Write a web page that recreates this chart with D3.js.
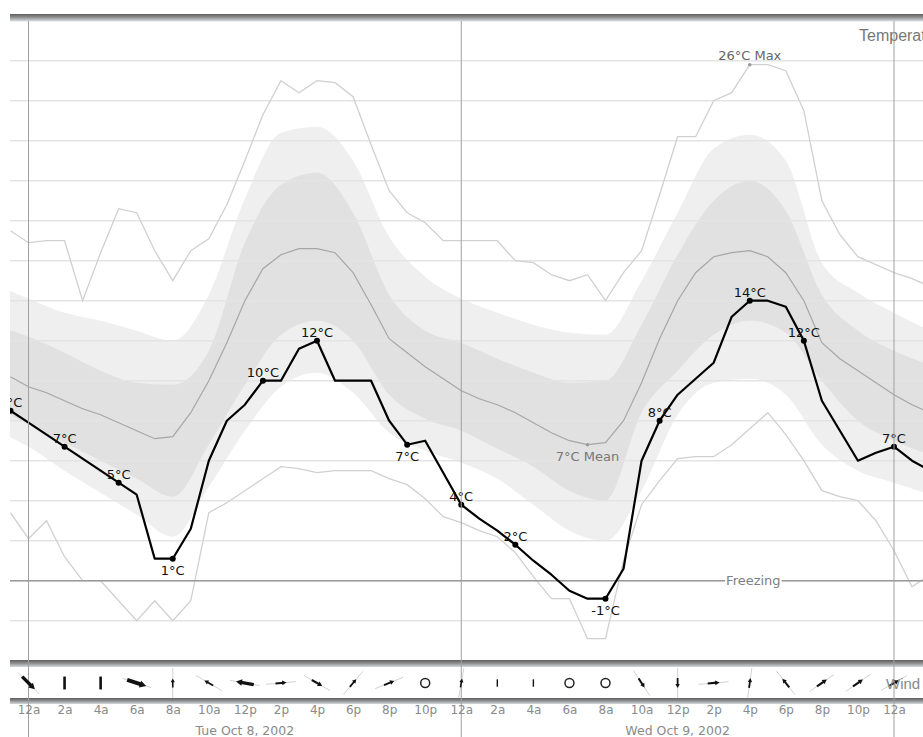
<!DOCTYPE html>
<html>
<head>
<meta charset="utf-8">
<script src="https://cdn.jsdelivr.net/npm/d3@7"></script>
<style>
body { margin: 0; background: #fff; overflow: hidden; }
svg text { font-family: "DejaVu Sans", Verdana, sans-serif; }
</style>
</head>
<body>
<svg id="chart" width="923" height="737"></svg>
<script>
// hourly values, hour 0 = 12a Tue Oct 8, 2002 (series start one hour earlier)
var hours = d3.range(-1, 51);
var observed = [8.5, 7.9, 7.3, 6.7, 6.1, 5.5, 4.9, 4.3, 1.1, 1.1, 2.6, 6.0, 8.0, 8.8, 10.0, 10.0, 11.6, 12.0, 10.0, 10.0,
    10.0, 8.0, 6.8, 7.0, 5.4, 3.8, 3.1, 2.5, 1.8, 1.0, 0.3, -0.5, -0.9, -0.9, 0.6, 6.0, 8.0, 9.3, 10.1, 10.9,
    13.2, 14.0, 14.0, 13.7, 12.0, 9.0, 7.5, 6.0, 6.4, 6.7, 6.0, 5.5];
var normalMean = [10.2, 9.7, 9.4, 9.0, 8.6, 8.3, 7.9, 7.5, 7.1, 7.2, 8.4, 10.0, 11.9, 14.0, 15.6, 16.3, 16.6, 16.6, 16.4, 15.4,
    13.8, 12.1, 11.4, 10.7, 10.1, 9.5, 9.1, 8.8, 8.4, 7.9, 7.4, 7.0, 6.8, 6.9, 8.0, 9.9, 12.1, 14.0, 15.4, 16.2,
    16.4, 16.5, 16.2, 15.4, 14.0, 11.9, 11.1, 10.5, 9.9, 9.3, 8.8, 8.4];
var recordMax = [17.5, 16.9, 17.0, 17.0, 14.0, 16.4, 18.6, 18.4, 16.5, 15.0, 16.5, 17.1, 18.8, 21.0, 23.3, 25.0, 24.4, 25.0, 24.9, 24.2,
    21.8, 19.5, 18.4, 17.9, 17.0, 17.0, 17.0, 17.0, 16.0, 15.9, 15.3, 15.0, 15.3, 14.0, 15.4, 16.5, 19.3, 22.2, 22.2, 24.0,
    24.4, 25.8, 25.8, 25.5, 23.5, 19.0, 17.3, 16.2, 15.8, 15.4, 15.1, 14.7];
var recordMin = [3.4, 2.1, 3.0, 1.2, 0.0, 0.0, -1.0, -2.0, -1.0, -2.0, -1.0, 3.4, 3.9, 4.5, 5.1, 5.7, 5.6, 5.4, 5.5, 5.5,
    5.5, 5.1, 4.8, 4.1, 3.2, 2.9, 2.5, 2.2, 1.4, 0.2, -0.9, -0.9, -2.9, -2.9, 1.0, 3.8, 5.0, 6.1, 6.2, 6.2,
    6.8, 7.6, 8.4, 7.3, 6.0, 4.5, 4.2, 4.0, 3.0, 1.5, -0.3, 0.3];

// normal range bands, every two hours
var bandHours = d3.range(-2, 51, 2);
var outerHigh = [14.9, 14.1, 13.4, 13.0, 12.5, 12.0, 14.3, 19.1, 22.4, 22.7, 21.0, 17.2, 15.2, 14.1, 13.4, 12.8, 12.4, 12.3, 15.0, 18.4, 21.6, 22.3, 21.0, 15.9, 14.4, 13.4, 12.5];
var innerHigh = [12.8, 12.2, 11.4, 10.5, 9.9, 9.8, 11.5, 16.9, 19.8, 20.4, 18.4, 14.3, 12.5, 11.9, 11.1, 10.4, 9.9, 10.0, 12.8, 16.3, 19.0, 20.0, 18.5, 14.3, 12.5, 11.5, 10.8];
var innerLow = [8.8, 7.8, 6.9, 6.0, 5.1, 4.2, 6.8, 9.8, 12.3, 13.0, 12.0, 9.3, 8.1, 7.5, 6.6, 5.7, 4.5, 4.0, 8.4, 10.5, 12.3, 13.0, 12.4, 10.0, 8.0, 7.0, 6.3];
var outerLow = [7.6, 6.7, 5.5, 4.4, 3.3, 2.2, 4.7, 7.5, 9.7, 10.4, 9.4, 7.4, 6.5, 5.9, 5.1, 3.8, 2.5, 2.0, 4.5, 8.3, 9.9, 10.1, 9.3, 6.8, 5.5, 4.9, 4.3];

var labelHours = [-1, 2, 5, 8, 13, 16, 21, 24, 27, 32, 35, 40, 43, 48];

var tickHours = d3.range(0, 51, 2);
var tickLabels = ["12a", "2a", "4a", "6a", "8a", "10a", "12p", "2p", "4p", "6p", "8p", "10p",
    "12a", "2a", "4a", "6a", "8a", "10a", "12p", "2p", "4p", "6p", "8p", "10p", "12a", "2a"];
var dayHours = [0, 24, 48];
var dayNoon = [12, 36];
var dayLabels = ["Tue Oct 8, 2002", "Wed Oct 9, 2002"];

// wind every two hours: direction the arrow points (deg, null = variable), speed (0 = calm)
var windHours = d3.range(0, 49, 2);
var windDir = [135, null, null, 108, 0, 300, 280, 85, 120, 40, 68, null, 10, null, null, null, null, 147, 180, 85, 8, 322, 55, 55, 60];
var windSpeed = [12, 9, 9, 14, 3, 4, 12, 5, 6, 4, 5, 0, 3, 4, 4, 0, 0, 5, 4, 6, 4, 5, 6, 6, 5];

var W = 923, H = 737;
var plotLeft = 10, plotTop = 21, plotBottom = 660;

var x = d3.scaleLinear().domain([0, 48]).range([28.5, 894]);
var y = d3.scaleLinear().domain([0, 26]).range([580.7, 60.7]);

function seriesPoints(hs, vals)
{
    return hs.map(function (h, i) { return {h: h, v: vals[i]}; });
}

function bandPoints(lo, hi)
{
    return bandHours.map(function (h, i) { return {h: h, lo: lo[i], hi: hi[i]}; });
}

function drawWindGlyph(g, cx, cy, dir, speed)
{
    if (speed === 0) {
        g.append("circle").attr("cx", cx).attr("cy", cy).attr("r", 4.5)
            .attr("fill", "none").attr("stroke", "#222").attr("stroke-width", 1.5);
        return;
    }
    if (dir === null) {
        var len = 3 + speed * 1.1;
        g.append("line").attr("x1", cx).attr("x2", cx)
            .attr("y1", cy - len / 2).attr("y2", cy + len / 2)
            .attr("stroke", "#111").attr("stroke-width", speed > 6 ? 2.6 : 1.4);
        return;
    }
    var rad = dir * Math.PI / 180;
    var dx = Math.sin(rad), dy = -Math.cos(rad);
    // light direction guide
    g.append("line")
        .attr("x1", cx - dx * 15).attr("y1", cy - dy * 15)
        .attr("x2", cx + dx * 15).attr("y2", cy + dy * 15)
        .attr("stroke", "#d2d2d2").attr("stroke-width", 1);
    var L = 6 + speed;
    var w = 1 + speed / 5;
    var tx = cx + dx * L / 2, ty = cy + dy * L / 2;
    var s = 3 + speed / 4;
    g.append("line")
        .attr("x1", cx - dx * L / 2).attr("y1", cy - dy * L / 2)
        .attr("x2", tx - dx * s * 0.6).attr("y2", ty - dy * s * 0.6)
        .attr("stroke", "#111").attr("stroke-width", w);
    // arrow head
    var px = -dy, py = dx;
    var bx = tx - dx * s, by = ty - dy * s;
    g.append("path")
        .attr("d", "M" + tx + "," + ty + "L" + (bx + px * s * 0.55) + "," + (by + py * s * 0.55) +
            "L" + (bx - px * s * 0.55) + "," + (by - py * s * 0.55) + "Z")
        .attr("fill", "#111");
}

var main = function () {

    var svg = d3.select("#chart");
    var defs = svg.append("defs");

    defs.append("clipPath").attr("id", "plotClip").append("rect")
        .attr("x", plotLeft).attr("y", plotTop).attr("width", W).attr("height", plotBottom - plotTop);
    defs.append("clipPath").attr("id", "pageClip").append("rect")
        .attr("x", plotLeft).attr("y", 0).attr("width", W).attr("height", H);

    var grad = defs.append("linearGradient").attr("id", "barGrad")
        .attr("x1", 0).attr("y1", 0).attr("x2", 0).attr("y2", 1);
    grad.append("stop").attr("offset", "0%").attr("stop-color", "#5e5e5e");
    grad.append("stop").attr("offset", "45%").attr("stop-color", "#8c8c8c");
    grad.append("stop").attr("offset", "100%").attr("stop-color", "#d4d8dc");

    svg.append("rect").attr("width", W).attr("height", H).attr("fill", "#fff");

    var plot = svg.append("g").attr("clip-path", "url(#plotClip)");

    /* Normal range bands */
    var band = d3.area()
        .x(function (d) { return x(d.h); })
        .y0(function (d) { return y(d.lo); })
        .y1(function (d) { return y(d.hi); })
        .curve(d3.curveMonotoneX);

    plot.append("path").datum(bandPoints(outerLow, outerHigh))
        .attr("d", band).attr("fill", "#efefef");
    plot.append("path").datum(bandPoints(innerLow, innerHigh))
        .attr("d", band).attr("fill", "#e1e1e1");

    /* Horizontal grid */
    plot.append("g").selectAll("line").data(d3.range(-2, 29, 2)).enter().append("line")
        .attr("x1", plotLeft).attr("x2", W)
        .attr("y1", function (d) { return y(d); }).attr("y2", function (d) { return y(d); })
        .attr("stroke", "#e4e4e4").attr("stroke-width", 1.4);

    var line = d3.line()
        .x(function (d) { return x(d.h); })
        .y(function (d) { return y(d.v); });

    plot.append("path").datum(seriesPoints(hours, recordMax))
        .attr("d", line).attr("fill", "none").attr("stroke", "#d0d0d0").attr("stroke-width", 1.3);
    plot.append("path").datum(seriesPoints(hours, recordMin))
        .attr("d", line).attr("fill", "none").attr("stroke", "#d0d0d0").attr("stroke-width", 1.3);
    plot.append("path").datum(seriesPoints(hours, normalMean))
        .attr("d", line).attr("fill", "none").attr("stroke", "#a6a6a6").attr("stroke-width", 1.2);

    /* Freezing line */
    plot.append("line").attr("x1", plotLeft).attr("x2", W)
        .attr("y1", y(0)).attr("y2", y(0))
        .attr("stroke", "#9a9a9a").attr("stroke-width", 1.5);
    var fx = x(40.2);
    var ft = plot.append("text").attr("x", fx).attr("y", y(0) + 4.6)
        .attr("text-anchor", "middle").attr("font-size", 13).attr("fill", "#808080").text("Freezing");
    var fb = ft.node().getBBox();
    plot.insert("rect", function () { return ft.node(); })
        .attr("x", fb.x - 1).attr("y", y(0) - 2).attr("width", fb.width + 2).attr("height", 4).attr("fill", "#fff");

    /* Max and mean markers */
    var maxIdx = d3.maxIndex(recordMax);
    var meanIdx = d3.minIndex(normalMean);
    plot.append("circle").attr("cx", x(hours[maxIdx])).attr("cy", y(recordMax[maxIdx])).attr("r", 1.8).attr("fill", "#999");
    plot.append("text").attr("x", x(hours[maxIdx])).attr("y", y(recordMax[maxIdx]) - 5)
        .attr("text-anchor", "middle").attr("font-size", 13).attr("fill", "#666")
        .text(Math.round(recordMax[maxIdx]) + "°C Max");
    plot.append("circle").attr("cx", x(hours[meanIdx])).attr("cy", y(normalMean[meanIdx])).attr("r", 1.8).attr("fill", "#999");
    plot.append("text").attr("x", x(hours[meanIdx])).attr("y", y(normalMean[meanIdx]) + 16)
        .attr("text-anchor", "middle").attr("font-size", 13).attr("fill", "#777")
        .text(Math.round(normalMean[meanIdx]) + "°C Mean");

    /* Observed temperature */
    plot.append("path").datum(seriesPoints(hours, observed))
        .attr("d", line).attr("fill", "none").attr("stroke", "#000").attr("stroke-width", 2.2)
        .attr("stroke-linejoin", "round");

    labelHours.forEach(function (h) {
        var i = hours.indexOf(h);
        var v = observed[i];
        var below = i > 0 && i < observed.length - 1 && v <= observed[i - 1] && v <= observed[i + 1];
        plot.append("circle").attr("cx", x(h)).attr("cy", y(v)).attr("r", 3).attr("fill", "#000");
        plot.append("text").attr("x", x(h)).attr("y", below ? y(v) + 16 : y(v) - 4)
            .attr("text-anchor", "middle").attr("font-size", 13).attr("fill", "#111")
            .text(Math.round(v) + "°C");
    });

    plot.append("text").attr("x", 859).attr("y", 41)
        .attr("font-size", 16).attr("fill", "#777")
        .style("font-family", "'Liberation Sans', Arial, sans-serif")
        .text("Temperature");

    var page = svg.append("g").attr("clip-path", "url(#pageClip)");

    /* Top bar */
    page.append("rect").attr("x", plotLeft).attr("y", 14).attr("width", W).attr("height", 7).attr("fill", "url(#barGrad)");

    /* Wind panel */
    page.append("rect").attr("x", plotLeft).attr("y", 660).attr("width", W).attr("height", 7).attr("fill", "url(#barGrad)");
    page.append("rect").attr("x", plotLeft).attr("y", 698).attr("width", W).attr("height", 6).attr("fill", "url(#barGrad)");

    /* Day boundaries */
    page.append("g").selectAll("line").data(dayHours).enter().append("line")
        .attr("x1", function (d) { return x(d); }).attr("x2", function (d) { return x(d); })
        .attr("y1", plotTop).attr("y2", H)
        .attr("stroke", "#a0a0a0").attr("stroke-width", 1);

    var wind = page.append("g");
    windHours.forEach(function (h, i) {
        drawWindGlyph(wind, x(h), 683, windDir[i], windSpeed[i]);
    });
    page.append("text").attr("x", 886).attr("y", 689)
        .attr("font-size", 15).attr("fill", "#888")
        .style("font-family", "'Liberation Sans', Arial, sans-serif")
        .text("Wind");

    /* Time axis */
    var axis = d3.axisBottom(x)
        .tickValues(tickHours)
        .tickFormat(function (d, i) { return tickLabels[i]; })
        .tickSize(0)
        .tickPadding(5);
    var ax = page.append("g").attr("transform", "translate(0,700)").call(axis);
    ax.select(".domain").remove();
    ax.selectAll("text").attr("font-size", 12).attr("fill", "#8a8a8a")
        .style("font-family", "'DejaVu Sans', Verdana, sans-serif");

    page.append("g").selectAll("text").data(dayNoon).enter().append("text")
        .attr("x", function (d) { return x(d); }).attr("y", 735)
        .attr("text-anchor", "middle").attr("font-size", 12.5).attr("fill", "#8a8a8a")
        .text(function (d, i) { return dayLabels[i]; });
};

main();
</script>
</body>
</html>
